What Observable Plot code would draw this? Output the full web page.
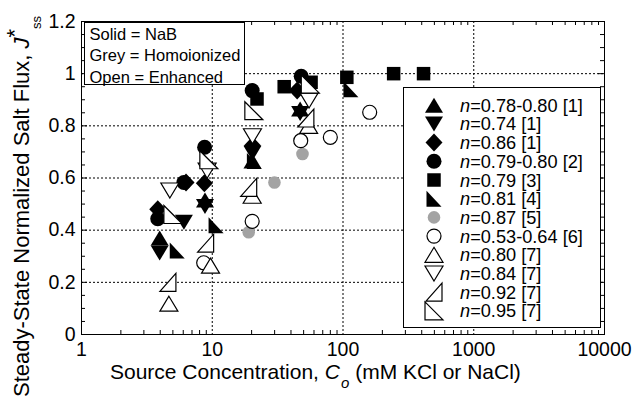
<!DOCTYPE html>
<html><head><meta charset="utf-8">
<script src="https://cdn.jsdelivr.net/npm/d3@7"></script>
<script src="https://cdn.jsdelivr.net/npm/@observablehq/plot@0.6"></script>
<style>
body{margin:0;background:#fff;}
#chart{position:relative;width:633px;height:403px;}
</style></head><body><div id="chart"></div>
<script>
// ---- axis ticks / labels ----
const xTicks = [1, 10, 100, 1000, 10000];
const xTickLabels = ["1", "10", "100", "1000", "10000"];
const yTicks = [0, 0.2, 0.4, 0.6, 0.8, 1, 1.2];
const yTickLabels = ["0", "0.2", "0.4", "0.6", "0.8", "1", "1.2"];
const xGrid = [10, 100, 1000];
const yGrid = [0.2, 0.4, 0.6, 0.8, 1];
const boxLines = ["Solid = NaB", "Grey = Homoionized", "Open = Enhanced"];

// ---- series (legend order) ----
const seriesLabels = ["0.78-0.80 [1]", "0.74 [1]", "0.86 [1]", "0.79-0.80 [2]", "0.79 [3]", "0.81 [4]",
  "0.87 [5]", "0.53-0.64 [6]", "0.80 [7]", "0.84 [7]", "0.92 [7]", "0.95 [7]"];

const s1x = [3.96, 8.8, 20.3, 47],        s1y = [0.37, 0.516, 0.665, 0.865];
const s2x = [3.96, 6.07, 8.8, 20.3, 47],  s2y = [0.312, 0.43, 0.491, 0.695, 0.847];
const s3x = [3.83, 6.3, 8.7, 20.3, 44.6], s3y = [0.48, 0.583, 0.58, 0.725, 0.935];
const s4x = [3.83, 6.07, 8.74, 20.2, 47.9], s4y = [0.444, 0.583, 0.718, 0.935, 0.99];
const s5x = [22, 35.5, 57, 107, 244, 413], s5y = [0.903, 0.95, 0.967, 0.986, 1.0, 1.0];
const s6x = [5.4, 10.7, 21, 115],         s6y = [0.322, 0.419, 0.665, 0.94];
const s7x = [19, 29.9, 49],               s7y = [0.392, 0.583, 0.692];
const s8x = [8.6, 20.2, 47.5, 80, 160],   s8y = [0.275, 0.434, 0.743, 0.756, 0.852];
const s9x = [4.66, 9.7, 20.2, 54.6],      s9y = [0.118, 0.264, 0.532, 0.80];
const s10x = [4.74, 9.14, 20.3, 55],      s10y = [0.552, 0.628, 0.76, 0.897];
const s11x = [4.58, 8.9, 19.0, 52],       s11y = [0.2, 0.35, 0.564, 0.83];
const s12x = [5.0, 9.42, 20.8, 56.2],     s12y = [0.46, 0.67, 0.858, 0.96];

const seriesX = [s1x, s2x, s3x, s4x, s5x, s6x, s7x, s8x, s9x, s10x, s11x, s12x];
const seriesY = [s1y, s2y, s3y, s4y, s5y, s6y, s7y, s8y, s9y, s10y, s11y, s12y];

// ---- marker styles ----
const seriesSymbol = ["triUp", "triDown", "diamond", "circle", "square", "rtBL",
  "circleGrey", "circleOpen", "triUp", "triDown", "rtBR", "rtBLopen"];
const seriesKind = ["solid", "solid", "solid", "solid", "solid", "solid",
  "grey", "open", "open", "open", "open", "open"];

const K = s => Math.sqrt(s / Math.PI);
function poly(pts) {
  return {draw(ctx, size) {
    const k = K(size);
    ctx.moveTo(pts[0][0] * k, pts[0][1] * k);
    for (let i = 1; i < pts.length; i++) ctx.lineTo(pts[i][0] * k, pts[i][1] * k);
    ctx.closePath();
  }};
}
function circ(r) {
  return {draw(ctx, size) {
    const k = K(size);
    ctx.moveTo(r * k, 0);
    ctx.arc(0, 0, r * k, 0, 2 * Math.PI);
    ctx.closePath();
  }};
}
const SYM = {
  triUp: poly([[0, -7.5], [9, 7.5], [-9, 7.5]]),
  triDown: poly([[0, 7.5], [9, -7.5], [-9, -7.5]]),
  diamond: poly([[0, -9], [8.5, 0], [0, 9], [-8.5, 0]]),
  circle: circ(7.5),
  circleOpen: circ(7),
  circleGrey: circ(6.3),
  square: poly([[-6.75, -6.75], [6.75, -6.75], [6.75, 6.75], [-6.75, 6.75]]),
  rtBL: poly([[-7.5, -8], [7.5, 8], [-7.5, 8]]),
  rtBLopen: poly([[-9, -9], [9, 9], [-9, 9]]),
  rtBR: poly([[8, -9], [8, 9], [-8, 9]])
};
const KIND = {
  solid: {fill: "black", stroke: "none", strokeWidth: 0},
  grey: {fill: "#a3a3a3", stroke: "none", strokeWidth: 0},
  open: {fill: "white", stroke: "black", strokeWidth: 1.2}
};

// minor ticks (axis decoration)
const xMinor = [];
[1, 10, 100, 1000].forEach(d => { for (let k = 2; k <= 9; k++) xMinor.push(d * k); });
const yMinor = d3.range(0.05, 1.2, 0.05).filter(v => Math.abs(v * 5 - Math.round(v * 5)) > 1e-6);
const yMajorInner = [0.2, 0.4, 0.6, 0.8, 1];

const W = 633, H = 403, ML = 81, MR = 29, MT = 21, MB = 69;
const PW = W - ML - MR, PH = H - MT - MB;
const FONT = "'Liberation Sans', Arial, Helvetica, sans-serif";

const dotMarks = seriesX.map((xs, i) => {
  const st = KIND[seriesKind[i]];
  return Plot.dot(xs.map((x, j) => ({x, y: seriesY[i][j]})), {
    x: "x", y: "y", r: 1, symbol: SYM[seriesSymbol[i]],
    fill: st.fill, stroke: st.stroke, strokeWidth: st.strokeWidth
  });
});

const plot = Plot.plot({
  width: W, height: H,
  marginLeft: ML, marginRight: MR, marginTop: MT, marginBottom: MB,
  style: {fontFamily: FONT, fontSize: "19.5px", background: "white", color: "black"},
  x: {type: "log", domain: [1, 10000]},
  y: {domain: [0, 1.2]},
  marks: [
    Plot.ruleX(xGrid, {x: d => d, stroke: "black", strokeDasharray: "2,2", strokeWidth: 1}),
    Plot.ruleY(yGrid, {y: d => d, stroke: "black", strokeDasharray: "2,2", strokeWidth: 1}),
    ...dotMarks,
    // inward ticks
    Plot.tickX(xMinor, {x: d => d, insetTop: PH - 4, stroke: "black"}),
    Plot.tickX(xMinor, {x: d => d, insetBottom: PH - 4, stroke: "black"}),
    Plot.tickY(yMinor, {y: d => d, insetRight: PW - 4, stroke: "black"}),
    Plot.tickY(yMinor, {y: d => d, insetLeft: PW - 4, stroke: "black"}),
    Plot.tickY(yMajorInner, {y: d => d, insetRight: PW - 6, stroke: "black"}),
    Plot.tickY(yMajorInner, {y: d => d, insetLeft: PW - 6, stroke: "black"}),
    Plot.frame({stroke: "black", strokeWidth: 1}),
    Plot.axisX(xTicks, {tickFormat: d => xTickLabels[xTicks.indexOf(d)], tickSize: 0, tickPadding: 8, label: null, fontSize: 19.5}),
    Plot.axisY(yTicks, {tickFormat: d => yTickLabels[yTicks.indexOf(d)], tickSize: 0, tickPadding: 6, label: null, fontSize: 19.5})
  ]
});
document.getElementById("chart").appendChild(plot);
const svg = d3.select(plot);

// top-left note box
const g1 = svg.append("g").attr("font-family", FONT).attr("font-size", 16.5).attr("fill", "black").attr("text-anchor", "start");
g1.append("rect").attr("x", 84.5).attr("y", 22.5).attr("width", 160).attr("height", 62)
  .attr("fill", "white").attr("stroke", "black").attr("stroke-width", 1);
boxLines.forEach((t, i) => g1.append("text").attr("x", 89.5).attr("y", 40 + i * 21.3).text(t));

// series legend
const g2 = svg.append("g").attr("font-family", FONT).attr("font-size", 18.2).attr("fill", "black").attr("text-anchor", "start");
g2.append("rect").attr("x", 403.5).attr("y", 87.5).attr("width", 197).attr("height", 240)
  .attr("fill", "white").attr("stroke", "black").attr("stroke-width", 1);
seriesLabels.forEach((lab, i) => {
  const yb = 111.7 + i * 18.7;
  const st = KIND[seriesKind[i]];
  g2.append("path")
    .attr("transform", `translate(434,${yb - 6.5})`)
    .attr("d", d3.symbol(SYM[seriesSymbol[i]], Math.PI)())
    .attr("fill", st.fill).attr("stroke", st.stroke).attr("stroke-width", st.strokeWidth);
  const t = g2.append("text").attr("x", 460).attr("y", yb);
  t.append("tspan").attr("font-style", "italic").text("n");
  t.append("tspan").text("=" + lab);
});

// x axis title
const xt = svg.append("text").attr("x", 110).attr("y", 378.5).attr("text-anchor", "start")
  .attr("font-family", FONT).attr("font-size", 21).attr("fill", "black");
xt.append("tspan").text("Source Concentration, ");
xt.append("tspan").attr("font-style", "italic").text("C");
xt.append("tspan").attr("font-style", "italic").attr("font-size", 15).attr("dy", 9).attr("dx", 1).text("o");
xt.append("tspan").attr("dy", -9).text(" (mM KCl or NaCl)");

// y axis title
const yt = svg.append("text").attr("transform", "translate(29,397) rotate(-90)").attr("text-anchor", "start")
  .attr("font-family", FONT).attr("font-size", 22).attr("fill", "black");
yt.append("tspan").text("Steady-State Normalized Salt Flux, ");
yt.append("tspan").attr("font-style", "italic").text("J");
yt.append("tspan").attr("dy", -7).text("*");
yt.append("tspan").attr("dy", 19).attr("font-size", 13).text("ss");
</script></body></html>
